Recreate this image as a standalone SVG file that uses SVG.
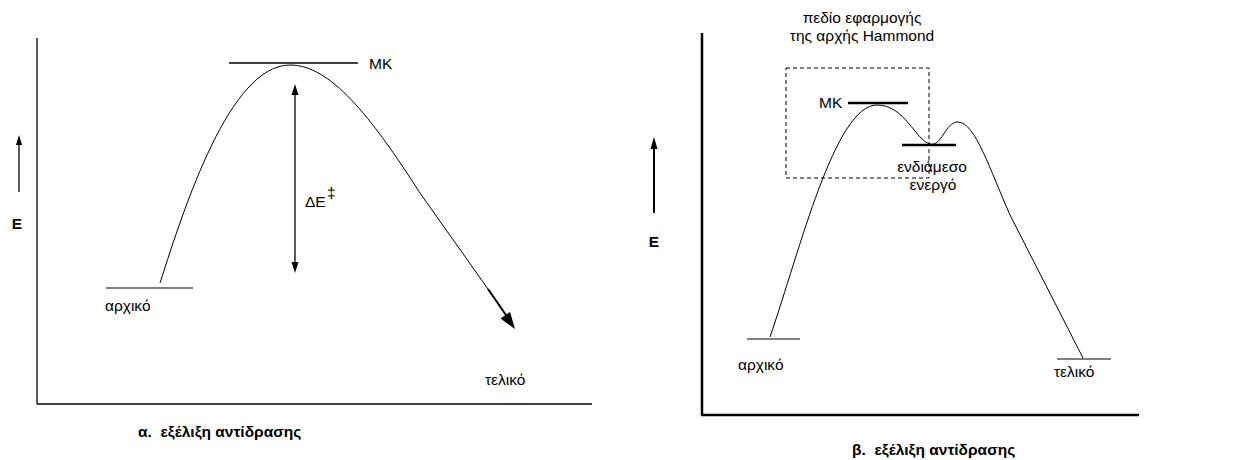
<svg xmlns="http://www.w3.org/2000/svg" width="1237" height="460" viewBox="0 0 1237 460">
<style>
text{font-family:"Liberation Sans",Arial,sans-serif;fill:#000;font-size:15.5px}
.b{font-weight:bold}
.ln{stroke:#000;fill:none}
.c{stroke:#000;fill:none;stroke-width:1}
.ah{fill:#000;stroke:none}
</style>
<rect width="1237" height="460" fill="#fff"/>
<g id="panel-a">
  <g id="axes-a">
    <line class="ln" x1="37" y1="38" x2="37" y2="404" stroke-width="1.3"/>
    <line class="ln" x1="37" y1="404" x2="592" y2="404" stroke-width="1.3"/>
  </g>
  <g id="energy-a">
    <line class="ln" x1="19" y1="192" x2="19" y2="142" stroke-width="1.3"/>
    <polygon class="ah" points="19,135 16,145 22,145"/>
    <text class="b" x="17" y="229" text-anchor="middle" font-size="14">E</text>
  </g>
  <g id="mk-a">
    <line class="ln" x1="229" y1="63" x2="358" y2="63" stroke-width="1.5"/>
    <text x="369" y="69">MK</text>
  </g>
  <g id="start-a">
    <line class="ln" x1="106" y1="288" x2="193" y2="288" stroke-width="1"/>
    <text x="105" y="311">αρχικό</text>
  </g>
  <g id="end-a">
    <text x="485" y="385">τελικό</text>
  </g>
  <g id="delta-e">
    <line class="ln" x1="295" y1="92" x2="295" y2="265" stroke-width="1.3"/>
    <polygon class="ah" points="295,84 291.5,95 298.5,95"/>
    <polygon class="ah" points="295,273 291.5,262 298.5,262"/>
    <text x="305" y="207">ΔE</text>
    <text x="327" y="198" font-size="11">‡</text>
  </g>
  <g id="curve-a">
    <path class="c" d="M160,283 C185,205 230,65 290,65 C330,65 370,115 420,193 L500,306"/>
    <line class="ln" x1="488" y1="289" x2="508" y2="318" stroke-width="2"/>
    <polygon class="ah" points="515,329 500.5,318.5 510,312"/>
  </g>
  <text class="b" x="138" y="437" xml:space="preserve">α.  εξέλιξη αντίδρασης</text>
</g>
<g id="panel-b">
  <g id="axes-b">
    <line class="ln" x1="702" y1="33" x2="702" y2="415" stroke-width="2.5"/>
    <line class="ln" x1="701" y1="415" x2="1139" y2="415" stroke-width="2.5"/>
  </g>
  <g id="energy-b">
    <line class="ln" x1="654" y1="213" x2="654" y2="146" stroke-width="2"/>
    <polygon class="ah" points="654,137 650.5,149 657.5,149"/>
    <text class="b" x="654" y="247" text-anchor="middle" font-size="14">E</text>
  </g>
  <g id="hammond">
    <rect x="786" y="68" width="143" height="110" fill="none" stroke="#000" stroke-width="1" stroke-dasharray="4,3"/>
    <text x="862" y="23" text-anchor="middle">πεδίο εφαρμογής</text>
    <text x="862" y="41" text-anchor="middle">της αρχής Hammond</text>
  </g>
  <g id="mk-b">
    <line class="ln" x1="848" y1="103" x2="908" y2="103" stroke-width="2.5"/>
    <text x="819" y="108">MK</text>
  </g>
  <g id="intermediate">
    <line class="ln" x1="902" y1="145" x2="956" y2="145" stroke-width="2.5"/>
    <text x="932" y="172" text-anchor="middle">ενδιάμεσο</text>
    <text x="933" y="190" text-anchor="middle">ενεργό</text>
  </g>
  <g id="start-b">
    <line class="ln" x1="747" y1="339" x2="800" y2="339" stroke-width="1.2"/>
    <text x="738" y="370">αρχικό</text>
  </g>
  <g id="end-b">
    <line class="ln" x1="1057" y1="359" x2="1111" y2="359" stroke-width="1.2"/>
    <text x="1054" y="377">τελικό</text>
  </g>
  <g id="curve-b">
    <path class="c" d="M770,337 C800,250 835,105 877,105 C905,105 915,140 930,144 C942,147 945,122 958,122 C975,122 990,170 1010,215 L1083,358"/>
  </g>
  <text class="b" x="852" y="455" xml:space="preserve">β.  εξέλιξη αντίδρασης</text>
</g>
</svg>
